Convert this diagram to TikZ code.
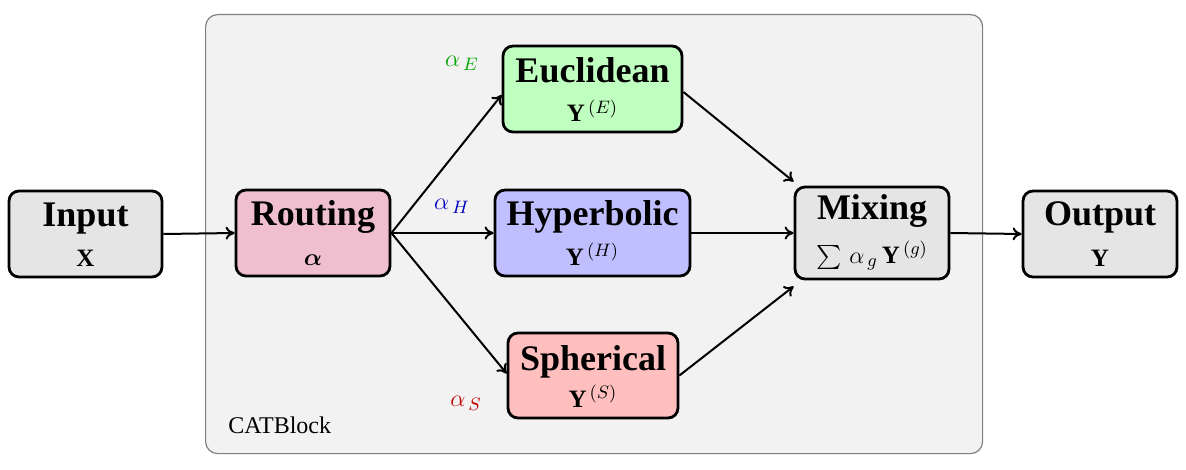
\documentclass[tikz,border=0pt]{standalone}
\usepackage{amsmath}
\usepackage{bm}
\usepackage{fontspec}
\setmainfont{Liberation Serif}
\usetikzlibrary{arrows.meta}
\begin{document}
\begin{tikzpicture}[x=0.5pt,y=-0.5pt,
  box/.style={draw=black, line width=1.4pt, rounded corners=5pt, align=center, inner sep=0pt, minimum height=43pt},
  conn/.style={line width=1pt, -{To[length=4.5pt,width=6.5pt]}},
  ttl/.style={anchor=base, inner sep=0pt, font=\fontsize{18}{20}\selectfont\bfseries},
  sub/.style={anchor=base, inner sep=0pt, font=\fontsize{12.5}{14}\selectfont},
  alab/.style={inner sep=0pt, font=\fontsize{12.5}{14}\selectfont}]
\useasboundingbox (0,0) rectangle (1186,470);
\node[draw=gray, fill=gray!10, rounded corners=6pt, line width=0.6pt, minimum width=388.5pt, minimum height=219.5pt, anchor=north west] (cat) at (205,14) {};
\node[anchor=base west, inner sep=0pt, font=\fontsize{12}{14}\selectfont] (catlbl) at (228,433) {CATBlock};

\node[box, fill=gray!20, minimum width=76.5pt] (in) at (85.5,234) {};
\node[box, fill=purple!25, minimum width=77pt] (rt) at (313,233) {};
\node[box, fill=green!25, minimum width=89.5pt] (eu) at (592.5,89) {};
\node[box, fill=blue!25, minimum width=97.5pt] (hy) at (592.5,233) {};
\node[box, fill=red!25, minimum width=85pt, minimum height=42.5pt] (sp) at (593,375.5) {};
\node[box, fill=gray!20, minimum width=77pt, minimum height=46pt] (mx) at (872,233) {};
\node[box, fill=gray!20, minimum width=77pt] (out) at (1100,234) {};

\node[ttl] (t1) at (85.5,227) {Input};
\node[sub] (s1) at (85.5,266) {$\mathbf{X}$};
\node[ttl] (t2) at (313,225) {Routing};
\node[sub] (s2) at (313,265) {$\bm{\alpha}$};
\node[ttl] (t3) at (592.5,83) {Euclidean};
\node[sub] (s3) at (592.5,122) {$\mathbf{Y}^{\,(E)}$};
\node[ttl] (t4) at (592.5,225) {Hyperbolic};
\node[sub] (s4) at (592.5,265) {$\mathbf{Y}^{\,(H)}$};
\node[ttl] (t5) at (593,370) {Spherical};
\node[sub] (s5) at (593,407) {$\mathbf{Y}^{\,(S)}$};
\node[ttl] (t6) at (872,220) {Mixing};
\node[sub] (s6) at (872,263) {$\sum\,\alpha_{\,g}\,\mathbf{Y}^{\,(g)}$};
\node[ttl] (t7) at (1100,225) {Output};
\node[sub] (s7) at (1100,266) {$\mathbf{Y}$};

\node[alab, text=green!65!black] (ae) at (462,63) {$\alpha_{\,E}$};
\node[alab, text=blue!75!black] (ah) at (452,206) {$\alpha_{\,H}$};
\node[alab, text=red!75!black] (as) at (466,403) {$\alpha_{\,S}$};

\draw[conn] (in.east) -- (rt.west);
\draw[conn] (rt.east) -- ([yshift=-3pt]eu.west);
\draw[conn] (rt.east) -- (hy.west);
\draw[conn] (rt.east) -- ([yshift=1pt]sp.west);
\draw[conn] ([yshift=-1.5pt]eu.east) -- ([yshift=2pt]mx.north west);
\draw[conn] (hy.east) -- (mx.west);
\draw[conn] (sp.east) -- ([yshift=-3pt]mx.south west);
\draw[conn] (mx.east) -- (out.west);
\end{tikzpicture}
\end{document}
